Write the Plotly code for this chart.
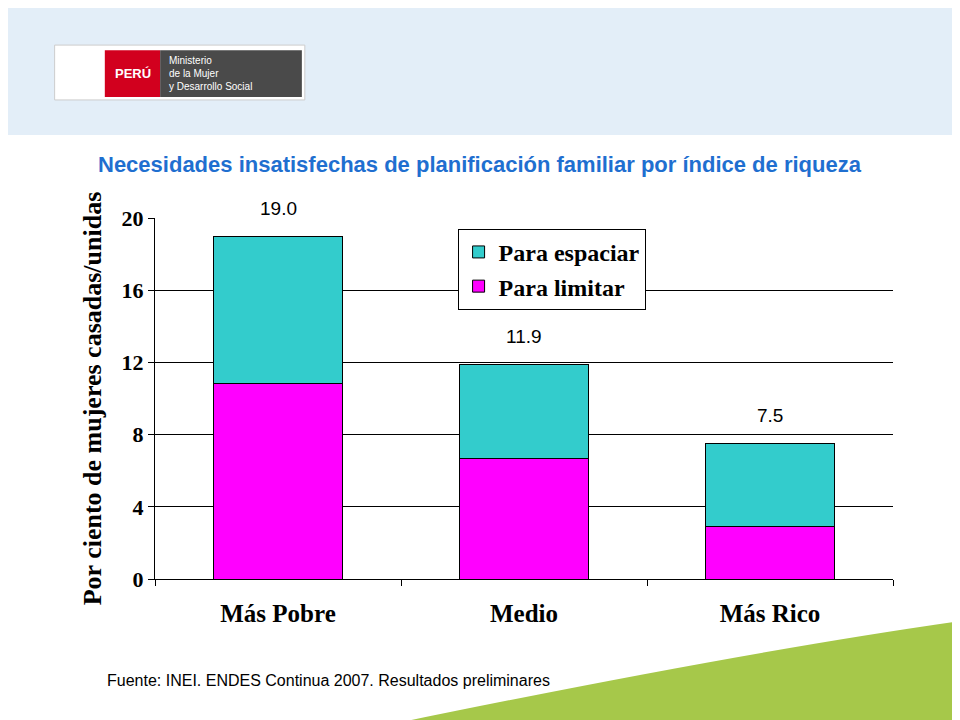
import plotly.graph_objects as go

categories = ["Más Pobre", "Medio", "Más Rico"]
limitar = [10.85, 6.65, 2.9]
espaciar = [8.15, 5.25, 4.6]
totals = [19.0, 11.9, 7.5]
total_labels = ["19.0", "11.9", "7.5"]

fig = go.Figure()
fig.add_bar(x=categories, y=limitar, name="<b>Para limitar</b>", marker=dict(color="#FF00FF", line=dict(color="black", width=1)))
fig.add_bar(x=categories, y=espaciar, name="<b>Para espaciar</b>", marker=dict(color="#33CCCC", line=dict(color="black", width=1)))

for c, t, lab in zip(categories, totals, total_labels):
    fig.add_annotation(x=c, y=t, text=lab, showarrow=False, yshift=28,
                       font=dict(family="Liberation Sans, Arial", size=19, color="black"))

# header decorations
fig.add_shape(type="rect", xref="paper", yref="paper", x0=-0.2, x1=1.1, y0=1.23, y1=1.62,
              fillcolor="#E3EEF8", line_width=0, layer="below")
fig.add_shape(type="rect", xref="paper", yref="paper", x0=-0.136, x1=0.203, y0=1.327, y1=1.479,
              fillcolor="white", line=dict(color="#CCCCCC", width=1))
fig.add_shape(type="rect", xref="paper", yref="paper", x0=-0.068, x1=0.007, y0=1.335, y1=1.465,
              fillcolor="#D2001E", line_width=0)
fig.add_shape(type="rect", xref="paper", yref="paper", x0=0.007, x1=0.199, y0=1.335, y1=1.465,
              fillcolor="#4A4A4A", line_width=0)
fig.add_annotation(xref="paper", yref="paper", x=-0.03, y=1.40, xanchor="center", yanchor="middle",
                   text="<b>PERÚ</b>", showarrow=False,
                   font=dict(family="Liberation Sans", size=13, color="white"))
fig.add_annotation(xref="paper", yref="paper", x=0.016, y=1.40, xanchor="left", yanchor="middle",
                   text="Ministerio<br>de la Mujer<br>y Desarrollo Social", showarrow=False, align="left",
                   font=dict(family="Liberation Sans", size=10, color="white"))
# bottom green band
fig.add_shape(type="path", xref="paper", yref="paper",
              path="M 0.325 -0.40 Q 0.8 -0.2 1.1 -0.114 L 1.1 -0.40 Z",
              fillcolor="#A6C84A", line_width=0, layer="below")

fig.add_annotation(xref="paper", yref="paper", x=0.44, y=1.147, xanchor="center", yanchor="middle",
                   showarrow=False,
                   text="<b>Necesidades insatisfechas de planificación familiar por índice de riqueza</b>",
                   font=dict(family="Liberation Sans, Arial", size=22, color="#1F6FD0"))
fig.add_annotation(xref="paper", yref="paper", x=-0.068, y=-0.28, xanchor="left", yanchor="middle",
                   showarrow=False,
                   text="Fuente: INEI. ENDES Continua 2007. Resultados preliminares",
                   font=dict(family="Liberation Sans, Arial", size=16, color="black"))

fig.update_layout(
    width=960, height=720, barmode="stack", bargap=0.475,
    paper_bgcolor="white", plot_bgcolor="white",
    margin=dict(l=147, r=75, t=210, b=149),
    legend=dict(x=0.41, y=0.97, xanchor="left", yanchor="top", traceorder="reversed",
                bordercolor="black", borderwidth=1, bgcolor="white",
                font=dict(family="Liberation Serif, Times New Roman", size=24, color="black")),
    xaxis=dict(showline=True, linecolor="black", ticks="outside", tickson="boundaries",
               tickcolor="black", ticklen=6, ticklabelstandoff=12,
               tickfont=dict(family="Liberation Serif, Times New Roman", size=25, color="black")),
    yaxis=dict(range=[0, 20], dtick=4, showline=True, linecolor="black", ticks="outside",
               tickcolor="black", ticklen=6, showgrid=True, gridcolor="black", gridwidth=1,
               tickfont=dict(family="Liberation Serif, Times New Roman", size=22, color="black"),
               title=dict(text="<b>Por ciento de mujeres casadas/unidas</b>", standoff=12,
                          font=dict(family="Liberation Serif, Times New Roman", size=26, color="black"))),
)
fig.update_xaxes(tickprefix="<b>", ticksuffix="</b>")
fig.update_yaxes(tickprefix="<b>", ticksuffix="</b>")
fig.write_html("out.html")
